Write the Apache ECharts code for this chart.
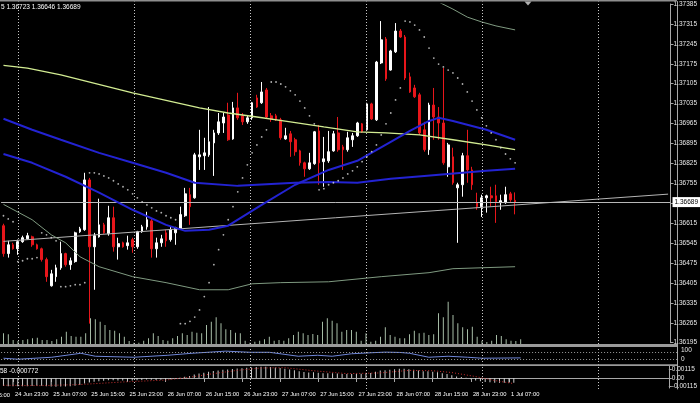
<!DOCTYPE html>
<html><head><meta charset="utf-8">
<script src="https://cdn.jsdelivr.net/npm/echarts@6/dist/echarts.min.js"></script>
<style>html,body{margin:0;padding:0;background:#000;}#c{width:700px;height:403px;}</style>
</head><body><div id="c"></div><script>
// ---------------- DATA ----------------
const tickLabels = ['24 Jun 15:00','24 Jun 23:00','25 Jun 07:00','25 Jun 15:00','25 Jun 23:00','26 Jun 07:00','26 Jun 15:00','26 Jun 23:00','27 Jun 07:00','27 Jun 15:00','27 Jun 23:00','28 Jun 07:00','28 Jun 15:00','28 Jun 23:00','1 Jul 07:00'];
const dayStarts = ['25 Jun 00:00','26 Jun 00:00','27 Jun 00:00','28 Jun 00:00','1 Jul 00:00','2 Jul 00:00'];
const firstBar = '24 Jun 21:00';
const priceTicks = {min:1.36195, max:1.37385, step:0.0007};
const bidPrice = 1.36689;
const headerText = '5 1.36723 1.36646 1.36689';
const macdHeader = '58 -0.000772';
const rsiScaleLabels = ['100','0'];

const opens = [1.36606,1.36508,1.36539,1.36525,1.36550,1.36560,1.36567,1.36539,1.36525,1.36487,1.36395,1.36427,1.36458,1.36508,1.36469,1.36480,1.36585,1.36592,1.36767,1.36532,
1.36567,1.36609,1.36578,1.36634,1.36532,1.36546,1.36536,1.36557,1.36532,1.36585,1.36602,1.36623,1.36525,1.36546,1.36581,1.36557,1.36581,1.36595,1.36641,1.36715,
1.36704,1.36848,1.36852,1.36855,1.36897,1.36932,1.36967,1.36995,1.36911,1.37020,1.36992,1.36971,1.36985,1.37055,1.37038,1.37083,1.36992,1.36992,1.36978,1.36911,
1.36929,1.36908,1.36869,1.36827,1.36806,1.36824,1.36939,1.36831,1.36834,1.36869,1.36932,1.36883,1.36873,1.36908,1.36922,1.36964,1.36943,1.37034,1.36978,1.37178,
1.37262,1.37153,1.37217,1.37290,1.37269,1.37129,1.37090,1.37066,1.36943,1.36873,1.37030,1.36988,1.36967,1.36813,1.36848,1.36739,1.36750,1.36852,1.36802,1.36687,
1.36673,1.36704,1.36711,1.36711,1.36687,1.36687,1.36718,1.36695];
const closes = [1.36508,1.36539,1.36525,1.36550,1.36564,1.36571,1.36539,1.36525,1.36487,1.36427,1.36437,1.36458,1.36508,1.36469,1.36483,1.36581,1.36595,1.36767,1.36532,1.36571,
1.36609,1.36581,1.36634,1.36532,1.36543,1.36532,1.36546,1.36532,1.36585,1.36602,1.36627,1.36525,1.36546,1.36560,1.36553,1.36592,1.36599,1.36645,1.36718,1.36673,
1.36855,1.36855,1.36862,1.36901,1.36932,1.36971,1.36988,1.36908,1.37020,1.36985,1.36971,1.36985,1.37038,1.37023,1.37076,1.36988,1.36981,1.36978,1.36915,1.36922,
1.36901,1.36866,1.36827,1.36806,1.36827,1.36936,1.36827,1.36841,1.36866,1.36929,1.36873,1.36873,1.36915,1.36922,1.36967,1.36936,1.37034,1.36981,1.37181,1.37259,
1.37122,1.37220,1.37290,1.37269,1.37125,1.37076,1.37059,1.36932,1.36873,1.37030,1.36988,1.36967,1.36827,1.36890,1.36757,1.36750,1.36852,1.36802,1.36750,1.36673,
1.36704,1.36711,1.36704,1.36690,1.36694,1.36715,1.36697,1.36689];
const lows = [1.36497,1.36494,1.36522,1.36504,1.36546,1.36557,1.36532,1.36522,1.36480,1.36409,1.36392,1.36409,1.36451,1.36462,1.36451,1.36476,1.36581,1.36588,1.36262,1.36381,
1.36564,1.36578,1.36571,1.36515,1.36487,1.36529,1.36522,1.36511,1.36525,1.36581,1.36592,1.36494,1.36494,1.36532,1.36532,1.36550,1.36539,1.36592,1.36637,1.36609,
1.36701,1.36802,1.36802,1.36848,1.36781,1.36925,1.36932,1.36904,1.36908,1.36978,1.36960,1.36964,1.36978,1.37020,1.37034,1.36981,1.36971,1.36974,1.36908,1.36908,
1.36848,1.36852,1.36817,1.36778,1.36802,1.36820,1.36750,1.36743,1.36827,1.36866,1.36866,1.36802,1.36866,1.36883,1.36918,1.36932,1.36939,1.36978,1.36974,1.37174,
1.37115,1.37151,1.37213,1.37266,1.37118,1.37073,1.37055,1.36925,1.36866,1.36855,1.36908,1.36908,1.36820,1.36778,1.36750,1.36546,1.36708,1.36757,1.36732,1.36662,
1.36637,1.36652,1.36673,1.36616,1.36662,1.36683,1.36690,1.36646];
const highs = [1.36613,1.36553,1.36546,1.36557,1.36571,1.36581,1.36571,1.36543,1.36529,1.36494,1.36451,1.36469,1.36550,1.36511,1.36494,1.36585,1.36602,1.36792,1.36774,1.36581,
1.36701,1.36616,1.36676,1.36673,1.36564,1.36550,1.36571,1.36564,1.36588,1.36609,1.36655,1.36630,1.36564,1.36574,1.36592,1.36602,1.36602,1.36673,1.36739,1.36739,
1.36862,1.36943,1.36915,1.37023,1.36943,1.37002,1.37002,1.37038,1.37041,1.37073,1.37002,1.36995,1.37041,1.37066,1.37111,1.37090,1.37002,1.36999,1.36985,1.36950,
1.36939,1.36915,1.36873,1.36831,1.36862,1.36939,1.36960,1.36918,1.36939,1.36939,1.36988,1.36890,1.36936,1.36932,1.36971,1.36967,1.37038,1.37038,1.37185,1.37325,
1.37269,1.37224,1.37318,1.37297,1.37276,1.37144,1.37101,1.37073,1.36971,1.37038,1.37090,1.37023,1.37160,1.36897,1.36880,1.36757,1.36862,1.36943,1.36813,1.36722,
1.36715,1.36715,1.36743,1.36750,1.36715,1.36743,1.36725,1.36723];
const volumes = [640,580,240,180,240,280,340,380,240,240,180,280,440,740,480,440,440,640,1540,1480,
1340,1140,840,800,640,440,180,80,80,200,340,640,480,240,200,340,480,640,540,740,
680,640,1140,1340,1600,1240,880,840,680,640,200,80,140,200,280,440,200,240,200,340,
540,740,640,540,600,540,1340,1540,1400,1240,740,840,840,740,200,640,140,200,440,1000,
540,440,340,340,580,800,640,680,540,580,1840,1600,2540,1740,1240,1000,880,1040,440,200,
120,200,540,480,280,200,180,280];
const sar = [1.36641,1.36630,1.36620,1.36480,1.36483,1.36490,1.36490,1.36494,1.36581,1.36574,1.36564,1.36553,1.36392,1.36392,1.36395,1.36399,1.36399,1.36406,1.36792,1.36792,
1.36788,1.36781,1.36774,1.36764,1.36753,1.36743,1.36732,1.36718,1.36704,1.36690,1.36679,1.36669,1.36658,1.36652,1.36641,1.36634,1.36627,1.36262,1.36262,1.36270,
1.36285,1.36310,1.36357,1.36406,1.36469,1.36522,1.36574,1.36627,1.36673,1.36725,1.36774,1.36820,1.36862,1.36890,1.36918,1.36943,1.37111,1.37111,1.37104,1.37094,
1.37080,1.37066,1.37044,1.37020,1.36992,1.36964,1.36732,1.36736,1.36750,1.36757,1.36764,1.36774,1.36788,1.36799,1.36813,1.36831,1.36848,1.36866,1.36890,1.36925,
1.36964,1.37002,1.37048,1.37090,1.37325,1.37322,1.37311,1.37294,1.37269,1.37230,1.37195,1.37174,1.37164,1.37153,1.37143,1.37125,1.37104,1.37076,1.37044,1.37013,
1.36985,1.36957,1.36932,1.36908,1.36880,1.36858,1.36841,1.36827];
const macdHist = [-0.00110,-0.00112,-0.00114,-0.00115,-0.00114,-0.00112,-0.00110,-0.00108,-0.00108,-0.00112,-0.00118,-0.00120,-0.00118,-0.00116,-0.00114,-0.00108,-0.00098,-0.00075,-0.00062,-0.00052,
-0.00044,-0.00038,-0.00032,-0.00032,-0.00034,-0.00036,-0.00037,-0.00036,-0.00032,-0.00027,-0.00022,-0.00024,-0.00026,-0.00024,-0.00021,-0.00016,-0.00010,0.00002,0.00018,0.00028,
0.00048,0.00062,0.00074,0.00086,0.00095,0.00105,0.00113,0.00116,0.00124,0.00130,0.00135,0.00140,0.00145,0.00150,0.00155,0.00156,0.00152,0.00146,0.00138,0.00128,
0.00118,0.00106,0.00094,0.00082,0.00076,0.00078,0.00072,0.00066,0.00064,0.00066,0.00062,0.00056,0.00054,0.00055,0.00058,0.00060,0.00066,0.00068,0.00086,0.00104,
0.00108,0.00114,0.00122,0.00128,0.00126,0.00120,0.00114,0.00104,0.00094,0.00092,0.00086,0.00078,0.00064,0.00054,0.00038,0.00022,0.00014,0.00002,-0.00016,-0.00036,
-0.00046,-0.00054,-0.00060,-0.00064,-0.00066,-0.00066,-0.00066,-0.00066];
const macdSignal = [['24 Jun 21:00',-0.00100],['25 Jun 05:00',-0.00105],['25 Jun 13:00',-0.00090],['25 Jun 22:00',-0.00055],['26 Jun 07:00',-0.00028],['26 Jun 12:00',0.00010],['26 Jun 17:00',0.00060],['26 Jun 22:00',0.00105],['27 Jun 03:00',0.00138],['27 Jun 08:00',0.00142],['27 Jun 14:00',0.00100],['27 Jun 21:00',0.00060],['28 Jun 04:00',0.00070],['28 Jun 10:00',0.00105],['28 Jun 15:00',0.00100],['28 Jun 19:00',0.00075],['1 Jul 00:00',0.00020],['1 Jul 04:00',-0.00035],['1 Jul 08:00',-0.00077]];
const maLong = [['24 Jun 21:00',1.37169],['25 Jun 02:00',1.37160],['25 Jun 09:00',1.37136],['26 Jun 00:00',1.37073],['26 Jun 14:00',1.37020],['26 Jun 20:00',1.37002],['27 Jun 02:00',1.36988],['27 Jun 09:00',1.36971],['27 Jun 16:00',1.36953],['27 Jun 23:00',1.36936],['28 Jun 05:00',1.36932],['28 Jun 12:00',1.36925],['28 Jun 19:00',1.36908],['1 Jul 02:00',1.36890],['1 Jul 08:00',1.36873]];
const maSlow = [['24 Jun 21:00',1.36982],['25 Jun 03:00',1.36943],['25 Jun 09:00',1.36908],['25 Jun 17:00',1.36862],['26 Jun 00:00',1.36827],['26 Jun 07:00',1.36792],['26 Jun 13:00',1.36757],['26 Jun 22:00',1.36746],['27 Jun 10:00',1.36757],['27 Jun 17:00',1.36760],['27 Jun 23:00',1.36757],['28 Jun 06:00',1.36771],['28 Jun 13:00',1.36781],['28 Jun 21:00',1.36792],['1 Jul 02:00',1.36799],['1 Jul 08:00',1.36806]];
const maFast = [['24 Jun 21:00',1.36858],['25 Jun 03:00',1.36827],['25 Jun 10:00',1.36778],['25 Jun 17:00',1.36722],['26 Jun 00:00',1.36662],['26 Jun 07:00',1.36609],['26 Jun 11:00',1.36588],['26 Jun 16:00',1.36592],['26 Jun 20:00',1.36606],['27 Jun 03:00',1.36679],['27 Jun 10:00',1.36750],['27 Jun 17:00',1.36802],['27 Jun 23:00',1.36834],['28 Jun 06:00',1.36901],['28 Jun 10:00',1.36939],['28 Jun 14:00',1.36974],['28 Jun 16:00',1.36985],['28 Jun 19:00',1.36974],['1 Jul 02:00',1.36943],['1 Jul 08:00',1.36908]];
const bandUpper = [['28 Jun 14:00',1.37417],['28 Jun 16:00',1.37392],['28 Jun 19:00',1.37367],['28 Jun 22:00',1.37339],['1 Jul 01:00',1.37322],['1 Jul 04:00',1.37308],['1 Jul 08:00',1.37294]];
const bandLower = [['24 Jun 21:00',1.36681],['25 Jun 03:00',1.36627],['25 Jun 07:00',1.36574],['25 Jun 10:00',1.36546],['25 Jun 13:00',1.36497],['25 Jun 17:00',1.36462],['26 Jun 00:00',1.36427],['26 Jun 07:00',1.36406],['26 Jun 14:00',1.36381],['26 Jun 20:00',1.36381],['27 Jun 01:00',1.36402],['27 Jun 07:00',1.36406],['27 Jun 17:00',1.36409],['28 Jun 04:00',1.36427],['28 Jun 14:00',1.36441],['28 Jun 19:00',1.36455],['1 Jul 08:00',1.36462]];
const trendLine = [['24 Jun 21:00',1.36551],['2 Jul 16:00',1.36717]];
const rsi = [['24 Jun 21:00',35],['25 Jun 00:00',29],['25 Jun 07:00',41],['25 Jun 13:00',65],['25 Jun 16:00',47],['26 Jun 00:00',41],['26 Jun 07:00',53],['26 Jun 12:00',65],['26 Jun 19:00',78],['27 Jun 00:00',71],['27 Jun 04:00',71],['27 Jun 10:00',47],['27 Jun 14:00',53],['27 Jun 17:00',47],['27 Jun 21:00',62],['28 Jun 01:00',68],['28 Jun 04:00',72],['28 Jun 07:00',70],['28 Jun 09:00',65],['28 Jun 13:00',41],['28 Jun 17:00',47],['28 Jun 21:00',41],['1 Jul 00:00',35],['1 Jul 08:00',37]];
const rsiLevels = [70, 30];

// ---------------- CATEGORIES ----------------
const categories = [];
(function(){ let day=24, mon='Jun', hour=21;
  for (let i=0;i<140;i++){ categories.push(day+' '+mon+' '+String(hour).padStart(2,'0')+':00');
    hour++; if(hour===24){hour=0;day++; if(mon==='Jun'&&day===29){day=1;mon='Jul';}} } })();
const startIdx = categories.indexOf(firstBar);
function pad(arr, empty){ return categories.map((c,i)=>{const j=i-startIdx; return (j>=0&&j<arr.length)?arr[j]:empty;}); }
const candleData = pad(opens.map((o,j)=>[o,closes[j],lows[j],highs[j]]), ['-','-','-','-']);
const tickSet = new Set(tickLabels);

// ---------------- LAYOUT ----------------
const band = 4.8333;
const k0 = categories.indexOf('25 Jun 00:00');
const L = 18 - (k0+0.5)*band;          // 25 Jun 00:00 centred at x=18
const W = categories.length*band;
const R = 700 - (L + W);
const FONT = 'Liberation Sans, Arial, sans-serif';
const AX = '#a8a8a8';
function grid(top,height){ return {left:L, right:R, top:top, height:height, containLabel:false}; }
const hidX = i => ({type:'category', gridIndex:i, data:categories, boundaryGap:true, show:false});
const firstLabelX = L + (categories.indexOf('24 Jun 23:00') - 8 + 0.5)*band;

const option = {
  backgroundColor:'#000', animation:false,
  grid:[grid(4,338.7), grid(4,340), grid(347.5,16.5), grid(366,22), grid(1.5,387.5)],
  xAxis:[hidX(0), hidX(1), hidX(2), {
      type:'category', gridIndex:3, data:categories, boundaryGap:true, position:'bottom',
      axisLine:{show:true, lineStyle:{color:AX, width:1}},
      axisTick:{show:true, alignWithLabel:true, interval:(i,v)=>tickSet.has(v), length:4, lineStyle:{color:AX}},
      axisLabel:{show:true, interval:(i,v)=>tickSet.has(v), align:'left', color:'#ffffff', fontSize:5.8, fontFamily:FONT, margin:3, padding:[0,0,0,2]},
      splitLine:{show:false}
    }, hidX(4)],
  yAxis:[
    {type:'value', gridIndex:0, position:'right', min:priceTicks.min, max:priceTicks.max, interval:priceTicks.step,
     axisLine:{show:true, lineStyle:{color:AX}}, axisTick:{show:true, length:3, lineStyle:{color:AX}},
     axisLabel:{color:'#e8e8e8', fontSize:6.5, fontFamily:FONT, margin:3, formatter:v=>v.toFixed(5)}, splitLine:{show:false}},
    {type:'value', gridIndex:1, min:0, max:20400, show:false},
    {type:'value', gridIndex:2, position:'right', min:0, max:100,
     axisLine:{show:true, lineStyle:{color:AX}}, axisTick:{show:false}, axisLabel:{show:false}, splitLine:{show:false}},
    {type:'value', gridIndex:3, position:'right', min:-0.001377, max:0.001653,
     axisLine:{show:true, lineStyle:{color:AX}}, axisTick:{show:true, length:3, customValues:[-0.00115,0,0.00115], lineStyle:{color:AX}},
     axisLabel:{color:'#e8e8e8', fontSize:6.5, fontFamily:FONT, margin:3, customValues:[-0.00115,0,0.00115], formatter:v=>Math.abs(v)<1e-9?'0.00':v.toFixed(5)}, splitLine:{show:false}},
    {type:'value', gridIndex:4, position:'right', min:0, max:1, axisLine:{show:true, lineStyle:{color:AX}}, axisTick:{show:false}, axisLabel:{show:false}, splitLine:{show:false}}
  ],
  series:[
    {type:'line', xAxisIndex:4, yAxisIndex:4, data:[], silent:true, z:1,
     markLine:{symbol:'none', silent:true, label:{show:false}, lineStyle:{color:'#c8c8c8', width:1, type:[1,2]},
       data:dayStarts.map(d=>({xAxis:d}))}},
    {type:'bar', xAxisIndex:1, yAxisIndex:1, data:pad(volumes,'-'), barWidth:1, itemStyle:{color:'#a6bca6'}, silent:true, z:2},
    {type:'candlestick', xAxisIndex:0, yAxisIndex:0, data:candleData, barWidth:2.2, z:3,
     itemStyle:{color:'#ffffff', color0:'#e8161b', borderColor:'#ffffff', borderColor0:'#e8161b', borderWidth:1}},
    {type:'line', xAxisIndex:0, yAxisIndex:0, data:trendLine, symbol:'none', lineStyle:{color:'#b4b4b4', width:1}, z:4,
     markLine:{symbol:'none', silent:true, precision:5, lineStyle:{color:'#b8b8b8', width:1, type:'solid'},
       label:{position:'end', formatter:()=>bidPrice.toFixed(5), backgroundColor:'#ffffff', color:'#000', fontSize:6.5, fontFamily:FONT, padding:[2,2,1,2], distance:2},
       data:[{yAxis:bidPrice}]}},
    {type:'line', xAxisIndex:0, yAxisIndex:0, data:bandUpper, symbol:'none', lineStyle:{color:'#7f9a80', width:1}, z:4},
    {type:'line', xAxisIndex:0, yAxisIndex:0, data:bandLower, symbol:'none', lineStyle:{color:'#7f9a80', width:1}, z:4},
    {type:'line', xAxisIndex:0, yAxisIndex:0, data:maLong, symbol:'none', lineStyle:{color:'#d2ec92', width:1.3}, z:5},
    {type:'line', xAxisIndex:0, yAxisIndex:0, data:maSlow, symbol:'none', lineStyle:{color:'#2323d2', width:2}, z:5},
    {type:'line', xAxisIndex:0, yAxisIndex:0, data:maFast, symbol:'none', lineStyle:{color:'#2323d2', width:2}, z:5},
    {type:'scatter', xAxisIndex:0, yAxisIndex:0, data:pad(sar,'-'), symbol:'circle', symbolSize:1.8, itemStyle:{color:'#dcdcdc'}, silent:true, z:6},
    {type:'line', xAxisIndex:2, yAxisIndex:2, data:rsi, symbol:'none', lineStyle:{color:'#6f86d8', width:1}, z:4,
     markLine:{symbol:'none', silent:true, precision:2, label:{show:false}, lineStyle:{color:'#9a9a9a', width:1, type:[1,2]}, data:rsiLevels.map(v=>({yAxis:v}))}},
    {type:'bar', xAxisIndex:3, yAxisIndex:3, data:pad(macdHist,'-'), barWidth:1, itemStyle:{color:'#cfcfcf'}, silent:true, z:3},
    {type:'line', xAxisIndex:3, yAxisIndex:3, data:macdSignal, symbol:'none', lineStyle:{color:'#c83030', width:1, type:[1,2]}, z:4}
  ],
  graphic:[
    {type:'rect', shape:{x:0,y:0,width:677,height:1.5}, style:{fill:'#8e8e8e'}, z:100, silent:true},
    {type:'rect', shape:{x:0,y:344,width:677,height:3}, style:{fill:'#9a9a9a'}, z:100, silent:true},
    {type:'rect', shape:{x:0,y:364.3,width:677,height:1.8}, style:{fill:'#9a9a9a'}, z:100, silent:true},
    {type:'polygon', shape:{points:[[524.5,1.5],[531.5,1.5],[528,5.5]]}, style:{fill:'#b0b0b0'}, z:100, silent:true},
    {type:'text', x:1, y:7, style:{text:headerText, fill:'#ffffff', fontSize:6.5, fontFamily:FONT, textVerticalAlign:'middle'}, z:100, silent:true},
    {type:'text', x:0, y:371, style:{text:macdHeader, fill:'#ffffff', fontSize:6.5, fontFamily:FONT, textVerticalAlign:'middle'}, z:100, silent:true},
    {type:'text', x:firstLabelX+2, y:395, style:{text:tickLabels[0], fill:'#ffffff', fontSize:5.8, fontFamily:FONT, textVerticalAlign:'middle'}, z:100, silent:true},
    {type:'text', x:681, y:350.5, style:{text:rsiScaleLabels[0], fill:'#e8e8e8', fontSize:6.5, fontFamily:FONT, textVerticalAlign:'middle'}, z:100, silent:true},
    {type:'text', x:681, y:359.5, style:{text:rsiScaleLabels[1], fill:'#e8e8e8', fontSize:6.5, fontFamily:FONT, textVerticalAlign:'middle'}, z:100, silent:true}
  ]
};
const chart = echarts.init(document.getElementById('c'), null, {renderer:'canvas'});
chart.setOption(option);
</script></body></html>
